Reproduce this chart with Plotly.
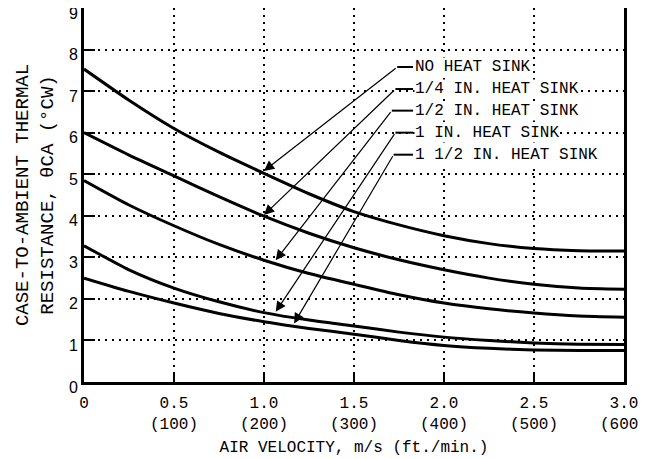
import plotly.graph_objects as go

# ---- data ----
air_velocity = [0, 0.25, 0.5, 0.75, 1.0, 1.25, 1.5, 1.75, 2.0, 2.25, 2.5, 2.75, 3.0]
no_sink      = [7.53, 6.78, 6.10, 5.53, 5.02, 4.53, 4.10, 3.78, 3.52, 3.33, 3.21, 3.16, 3.15]
sink_quarter = [6.00, 5.46, 4.96, 4.46, 3.99, 3.58, 3.23, 2.94, 2.70, 2.50, 2.35, 2.26, 2.23]
sink_half    = [4.85, 4.26, 3.76, 3.31, 2.93, 2.61, 2.35, 2.10, 1.90, 1.76, 1.66, 1.59, 1.56]
sink_one     = [3.28, 2.70, 2.26, 1.93, 1.67, 1.49, 1.35, 1.20, 1.08, 1.00, 0.94, 0.91, 0.90]
sink_onehalf = [2.50, 2.18, 1.90, 1.65, 1.45, 1.29, 1.15, 1.00, 0.88, 0.81, 0.77, 0.76, 0.76]

series = [no_sink, sink_quarter, sink_half, sink_one, sink_onehalf]
labels = ["NO HEAT SINK", "1/4 IN. HEAT SINK", "1/2 IN. HEAT SINK",
          "1 IN. HEAT SINK", "1 1/2 IN. HEAT SINK"]

# callout label rows and arrow tips (data units)
label_y = [7.58, 7.05, 6.53, 6.00, 5.47]
joint_x = [1.74, 1.73, 1.71, 1.73, 1.72]
tip_x = [1.0, 1.0, 1.065, 1.065, 1.167]
tip_y = [5.08, 4.02, 2.93, 1.69, 1.41]
dash_end_x = 1.828
text_x = 1.835

x_tickvals = [0, 0.5, 1.0, 1.5, 2.0, 2.5, 3.0]
x_ticktext = ["0", "0.5<br>(100)", "1.0<br>(200)", "1.5<br>(300)",
              "2.0<br>(400)", "2.5<br>(500)", "3.0<br>(600)"]
y_tickvals = list(range(0, 10))

MONO = "Liberation Mono, Courier New, monospace"
SANS = "Liberation Sans, Arial, sans-serif"

fig = go.Figure()
for s in series:
    fig.add_trace(go.Scatter(x=air_velocity, y=s, mode="lines",
                             line=dict(color="black", width=3, shape="spline", smoothing=0.6),
                             showlegend=False, hoverinfo="skip"))

for i, lab in enumerate(labels):
    fig.add_annotation(x=tip_x[i], y=tip_y[i], ax=joint_x[i], ay=label_y[i],
                       xref="x", yref="y", axref="x", ayref="y", text="",
                       showarrow=True, arrowhead=2, arrowsize=1.7, arrowwidth=1.2,
                       arrowcolor="black")
    fig.add_shape(type="line", x0=joint_x[i], x1=dash_end_x, y0=label_y[i], y1=label_y[i],
                  xref="x", yref="y", line=dict(color="black", width=2))
    fig.add_annotation(x=text_x, y=label_y[i], xref="x", yref="y", text=lab,
                       showarrow=False, xanchor="left", yanchor="middle",
                       font=dict(family=MONO, size=16, color="black"), bgcolor="white",
                       borderpad=0)

fig.update_xaxes(range=[0, 3], tickvals=x_tickvals, ticktext=x_ticktext,
                 ticks="inside", ticklen=8, tickwidth=2, tickcolor="black",
                 showline=True, linewidth=3, linecolor="black", mirror=True,
                 showgrid=True, gridcolor="black", gridwidth=1.5, griddash="2px,5px",
                 zeroline=False, automargin=False, ticklabeloverflow="allow",
                 ticklabelstandoff=4,
                 tickfont=dict(family=MONO, size=16, color="black"),
                 title=dict(text="AIR VELOCITY, m/s (ft./min.)", standoff=8,
                            font=dict(family=MONO, size=16, color="black")))
fig.update_yaxes(range=[0, 9], tickvals=y_tickvals,
                 ticks="inside", ticklen=11, tickwidth=2, tickcolor="black",
                 showline=True, linewidth=3, linecolor="black", mirror=True,
                 showgrid=True, gridcolor="black", gridwidth=1.5, griddash="2px,5px",
                 zeroline=False, automargin=False, ticklabeloverflow="allow",
                 ticklabelshift=5,
                 tickfont=dict(family=SANS, size=16, color="black"),
                 title=dict(text="CASE-TO-AMBIENT THERMAL<br>RESISTANCE, θCA (°CW)", standoff=11,
                            font=dict(family=MONO, size=19, color="black")))

# the page body adds an 8px offset; margins compensate so the plot box sits where the reference's does
fig.update_layout(width=646, height=459, margin=dict(l=76, r=30, t=0, b=85),
                  plot_bgcolor="white", paper_bgcolor="white")

fig.write_html("out.html")
